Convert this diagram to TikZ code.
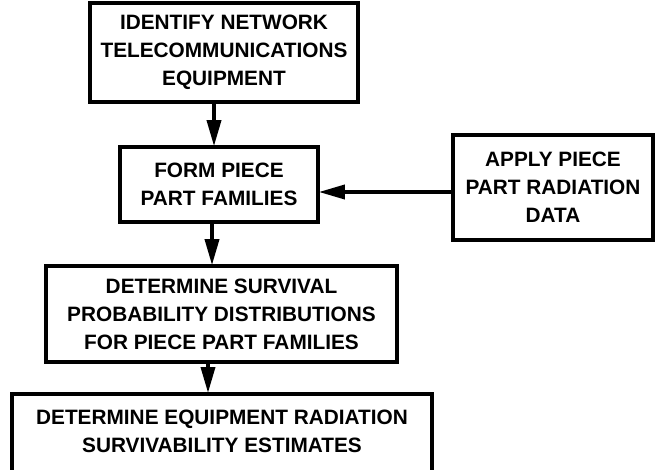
\documentclass[tikz,border=0pt]{standalone}
\usepackage{fontspec}
\setmainfont{Liberation Sans}
\usetikzlibrary{arrows.meta}
\begin{document}
\begin{tikzpicture}[x=1pt,y=-1pt,
  box/.style={draw, line width=3.6pt, align=center, inner sep=0pt,
    font=\fontsize{20.8}{28}\selectfont\bfseries},
  arr/.style={line width=3.6pt, -{Triangle[length=26pt,width=14pt]}, shorten >=-1pt}]
\useasboundingbox (0,0) rectangle (655,470);
\node[box, minimum width=268pt, minimum height=99pt] (b1) at (224,52.5)
  {IDENTIFY NETWORK\\TELECOMMUNICATIONS\\EQUIPMENT};
\node[box, minimum width=198pt, minimum height=75pt] (b2) at (219,184.5)
  {FORM PIECE\\PART FAMILIES};
\node[box, minimum width=200pt, minimum height=105pt] (rb) at (553,187.5)
  {APPLY PIECE\\PART RADIATION\\DATA};
\node[box, minimum width=351pt, minimum height=96pt] (b3) at (221.5,314)
  {DETERMINE SURVIVAL\\PROBABILITY DISTRIBUTIONS\\FOR PIECE PART FAMILIES};
\node[box, minimum width=420pt, minimum height=80pt, anchor=north, text depth=6pt] (b4) at (222,392)
  {DETERMINE EQUIPMENT RADIATION\\SURVIVABILITY ESTIMATES};
\coordinate (c1) at (214,0);
\coordinate (c2) at (212,0);
\coordinate (c3) at (208,0);
\draw[arr] (b1.south -| c1) -- (b2.north -| c1);
\draw[arr] (b2.south -| c2) -- (b3.north -| c2);
\draw[arr] (b3.south -| c3) -- (b4.north -| c3);
\draw[arr] (rb.west |- 0,192) -- (b2.east |- 0,192);
\end{tikzpicture}
\end{document}
